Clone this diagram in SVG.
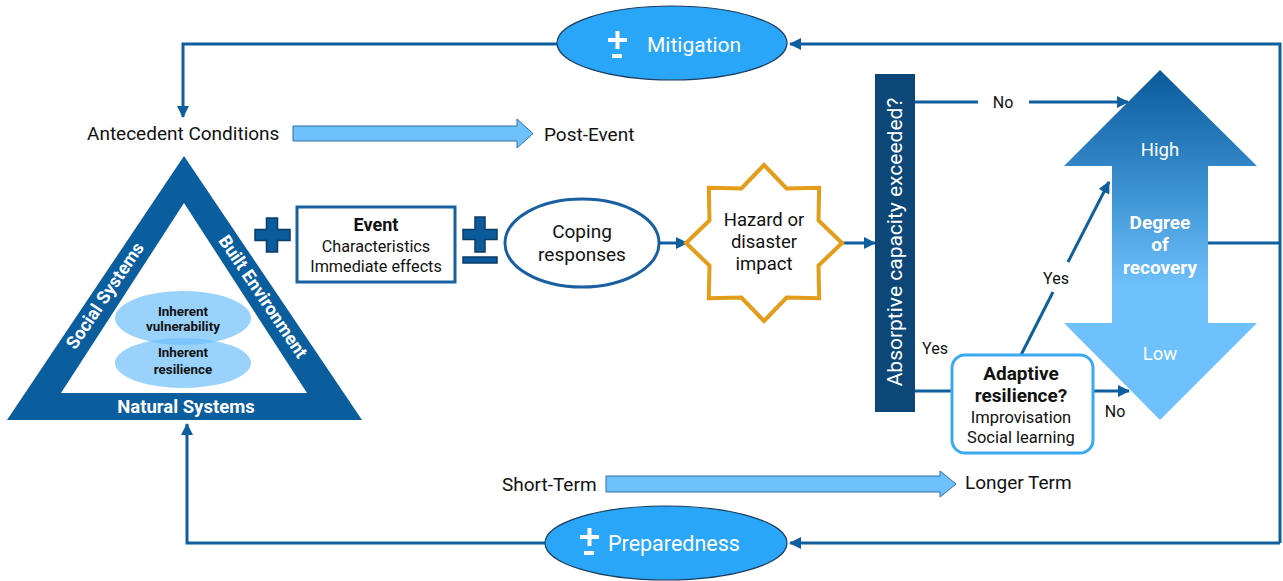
<svg xmlns="http://www.w3.org/2000/svg" width="1283" height="581" viewBox="0 0 1283 581">
<style>
text{font-family:Roboto,"Liberation Sans",sans-serif;fill:#111}
.t19{font-size:19px}
.t16{font-size:16px}
.lbl{font-size:16px}
.b{font-weight:bold}
.w{fill:#fff}
.mid{text-anchor:middle}
.conn{fill:none;stroke:#0f5e9e;stroke-width:3}
.blk{fill:#6ec1fc;stroke:#2f6fa6;stroke-width:1}
.wsym{fill:#fff}
.dsym{fill:#0b5a9c;stroke:#0a3b66;stroke-width:1.5}
</style>
<defs>
<marker id="ah" markerUnits="userSpaceOnUse" markerWidth="12" markerHeight="12" refX="11" refY="6" orient="auto">
<path d="M0,0 L12,6 L0,12 z" fill="#0f5e9e"/>
</marker>
<linearGradient id="grad" gradientUnits="userSpaceOnUse" x1="0" y1="70" x2="0" y2="420">
<stop offset="0" stop-color="#0a5a9a"/>
<stop offset="0.33" stop-color="#3a8fcf"/>
<stop offset="0.62" stop-color="#6ec1fc"/>
<stop offset="1" stop-color="#6ec1fc"/>
</linearGradient>
</defs>
<rect width="1283" height="581" fill="#fff"/>

<g id="connectors">
<path class="conn" d="M1208,243 H1280"/>
<path class="conn" d="M1280,543 V44 H790" marker-end="url(#ah)"/>
<path class="conn" d="M1280,543 H790" marker-end="url(#ah)"/>
<path class="conn" d="M557,44 H183 V117" marker-end="url(#ah)"/>
<path class="conn" d="M545,543 H187 V424" marker-end="url(#ah)"/>
<path class="conn" d="M659,243 H687" marker-end="url(#ah)"/>
<path class="conn" d="M842,243 H875" marker-end="url(#ah)"/>
<path class="conn" d="M915,102 H978"/>
<path class="conn" d="M1029,102 H1128" marker-end="url(#ah)"/>
<path class="conn" d="M915,391 H952"/>
<path class="conn" d="M1093,391 H1129" marker-end="url(#ah)"/>
<path class="conn" d="M1021,355 L1053,292"/>
<path class="conn" d="M1068,262 L1109,182" marker-end="url(#ah)"/>
<text class="lbl" x="1003" y="108" text-anchor="middle">No</text>
<text class="lbl" x="935" y="354" text-anchor="middle">Yes</text>
<text class="lbl" x="1056" y="284" text-anchor="middle">Yes</text>
<text class="lbl" x="1115" y="417" text-anchor="middle">No</text>
</g>

<g id="mitigation">
<ellipse cx="672" cy="43" rx="115" ry="37" fill="#2aa6f8" stroke="#1d3d5e" stroke-width="1.2"/>
<rect class="wsym" x="608" y="38" width="19" height="4"/>
<rect class="wsym" x="615.5" y="31" width="4" height="18"/>
<rect class="wsym" x="612" y="54" width="10" height="4"/>
<text class="w" x="647" y="52" style="font-size:21px">Mitigation</text>
</g>

<g id="preparedness">
<ellipse cx="666" cy="543" rx="121" ry="37" fill="#2aa6f8" stroke="#1d3d5e" stroke-width="1.2"/>
<rect class="wsym" x="580" y="535" width="19" height="4"/>
<rect class="wsym" x="587.5" y="528" width="4" height="18"/>
<rect class="wsym" x="584" y="551" width="10" height="4"/>
<text class="w" x="608" y="551" style="font-size:21.5px">Preparedness</text>
</g>

<g id="antecedent">
<text class="t19" x="87" y="140">Antecedent Conditions</text>
<path class="blk" d="M293,126 H517 V119 L533,133.5 L517,148 V141 H293 Z"/>
<text class="t19" x="544" y="141">Post-Event</text>
</g>

<g id="timeline">
<text class="t19" x="502" y="491">Short-Term</text>
<path class="blk" d="M606,476 H940 V471 L956,484 L940,497 V492 H606 Z"/>
<text class="t19" x="965" y="489">Longer Term</text>
</g>

<g id="triangle">
<path d="M184,156 L362,420 L7,420 Z" fill="#0b5e9e"/>
<path d="M184,203 L307,393 L61,393 Z" fill="#fff"/>
<text class="w b mid" x="186" y="413" style="font-size:18.5px">Natural Systems</text>
<text class="w b mid" transform="translate(110,299) rotate(-56)" style="font-size:18px">Social Systems</text>
<text class="w b mid" transform="translate(258,300) rotate(56)" style="font-size:18px">Built Environment</text>
<ellipse cx="183" cy="318" rx="68" ry="27" fill="#6dbff9" opacity="0.7"/>
<ellipse cx="183" cy="363" rx="68" ry="25" fill="#6dbff9" opacity="0.7"/>
<text class="b mid" x="183" y="316" style="font-size:13.4px">Inherent</text>
<text class="b mid" x="183" y="331" style="font-size:13.4px">vulnerability</text>
<text class="b mid" x="183" y="357" style="font-size:13.4px">Inherent</text>
<text class="b mid" x="183" y="374" style="font-size:13.4px">resilience</text>
</g>

<g id="plus">
<path class="dsym" d="M266.5,218 H277.5 V229.5 H290 V240.5 H277.5 V252 H266.5 V240.5 H255 V229.5 H266.5 Z"/>
</g>

<g id="event">
<rect x="297" y="207" width="158" height="75" fill="#fff" stroke="#1a60a0" stroke-width="3"/>
<text class="b mid" x="376" y="231" style="font-size:18px">Event</text>
<text class="mid" x="376" y="252" style="font-size:16.2px">Characteristics</text>
<text class="mid" x="376" y="272" style="font-size:16.2px">Immediate effects</text>
</g>

<g id="plusminus">
<path class="dsym" d="M475,217 H485 V229.5 H497 V239.5 H485 V252 H475 V239.5 H463 V229.5 H475 Z"/>
<rect class="dsym" x="463" y="257" width="34" height="6"/>
</g>

<g id="coping">
<ellipse cx="582" cy="243" rx="77" ry="44" fill="#fff" stroke="#1a60a0" stroke-width="3"/>
<text class="t19 mid" x="582" y="238">Coping</text>
<text class="t19 mid" x="582" y="261">responses</text>
</g>

<g id="hazard">
<path d="M842,243 L818.5,265.6 L819.2,298.2 L786.6,297.5 L764,321 L741.4,297.5 L708.8,298.2 L709.5,265.6 L686,243 L709.5,220.4 L708.8,187.8 L741.4,188.5 L764,165 L786.6,188.5 L819.2,187.8 L818.5,220.4 Z" fill="#fff" stroke="#e39d1b" stroke-width="4" stroke-linejoin="miter"/>
<text class="mid" x="764" y="226" style="font-size:18.5px">Hazard or</text>
<text class="mid" x="764" y="248" style="font-size:18.5px">disaster</text>
<text class="mid" x="764" y="270" style="font-size:18.5px">impact</text>
</g>

<g id="absorptive">
<rect x="875" y="74" width="40" height="338" fill="#0c4777"/>
<text class="w mid" transform="translate(902,242) rotate(-90)" style="font-size:21px">Absorptive capacity exceeded?</text>
</g>

<g id="adaptive">
<rect x="952" y="355" width="141" height="98" rx="13" fill="#fff" stroke="#3aa9f2" stroke-width="3"/>
<text class="b mid" x="1021" y="380" style="font-size:19px">Adaptive</text>
<text class="b mid" x="1021" y="402" style="font-size:19px">resilience?</text>
<text class="mid" x="1021" y="423" style="font-size:16.5px">Improvisation</text>
<text class="mid" x="1021" y="443" style="font-size:16.5px">Social learning</text>
</g>

<g id="recovery">
<path d="M1160,70 L1257,166 L1208,166 L1208,323 L1257,323 L1160,420 L1064,323 L1112,323 L1112,166 L1064,166 Z" fill="url(#grad)"/>
<text class="w mid" x="1160" y="156" style="font-size:18.5px">High</text>
<text class="w b mid" x="1160" y="229" style="font-size:19px">Degree</text>
<text class="w b mid" x="1160" y="251" style="font-size:19px">of</text>
<text class="w b mid" x="1160" y="274" style="font-size:19px">recovery</text>
<text class="w mid" x="1160" y="360" style="font-size:18.5px">Low</text>
</g>
</svg>
